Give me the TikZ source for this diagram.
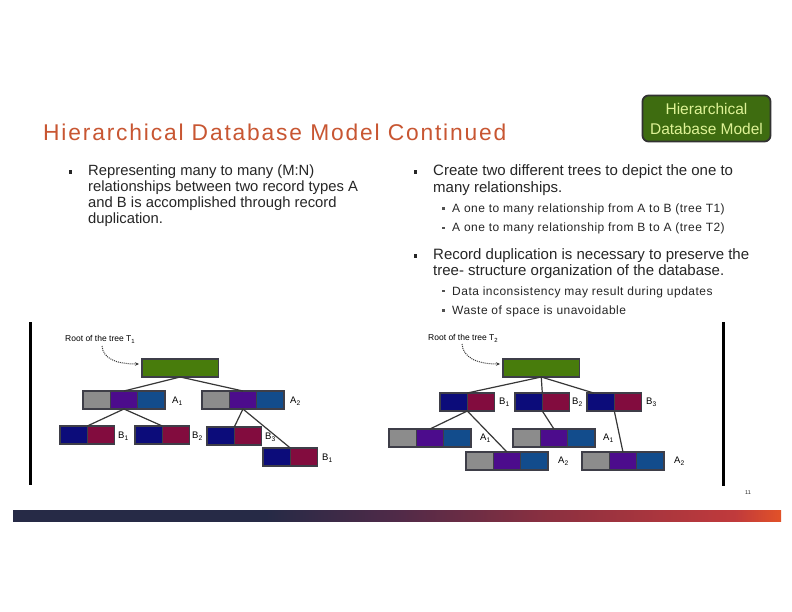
\documentclass[tikz,border=0pt]{standalone}
\usepackage{fontspec}
\setmainfont{Liberation Sans}
\newfontfamily\titlef[LetterSpace=8]{Liberation Sans}
\newfontfamily\subf[LetterSpace=4]{Liberation Sans}
\usetikzlibrary{arrows.meta}
\definecolor{titlec}{RGB}{200,86,50}
\definecolor{textc}{RGB}{38,38,38}
\definecolor{boxfill}{RGB}{62,108,16}
\definecolor{boxline}{RGB}{50,50,50}
\definecolor{boxtext}{RGB}{222,242,150}
\definecolor{cgray}{RGB}{140,140,140}
\definecolor{cpurp}{RGB}{76,12,140}
\definecolor{cblue}{RGB}{18,76,140}
\definecolor{cnavy}{RGB}{12,12,122}
\definecolor{cmaroon}{RGB}{130,12,62}
\definecolor{cgreen}{RGB}{72,124,12}
\definecolor{cellline}{RGB}{62,62,72}
\definecolor{linkc}{RGB}{55,55,55}
\definecolor{barA}{RGB}{38,42,70}
\definecolor{barB}{RGB}{80,42,72}
\definecolor{barC}{RGB}{140,48,64}
\definecolor{barD}{RGB}{192,58,60}
\definecolor{barE}{RGB}{226,82,40}
\pgfdeclarehorizontalshading{barshade}{100bp}{color(0bp)=(barA); color(25bp)=(barA); color(41.5bp)=(barA); color(50bp)=(barB); color(60bp)=(barC); color(72bp)=(barD); color(75bp)=(barE); color(100bp)=(barE)}
\newcommand\recA[3]{%
  \node[cell,fill=cgray] (#1g) at (#2,#3) {};
  \node[cell,fill=cpurp] (#1p) at (#1g.north east) {};
  \node[cell,fill=cblue] (#1b) at (#1p.north east) {};}
\newcommand\recB[3]{%
  \node[cell,fill=cnavy] (#1n) at (#2,#3) {};
  \node[cell,fill=cmaroon] (#1m) at (#1n.north east) {};}
\begin{document}
\begin{tikzpicture}[x=1pt,y=-1pt,
  cell/.style={draw=cellline, line width=1.6pt, minimum width=27.3pt, minimum height=18pt, inner sep=0pt, outer sep=0pt, anchor=north west},
  rootbox/.style={cell, fill=cgreen, minimum width=76.5pt},
  link/.style={draw=linkc, line width=1.2pt},
  dotarrow/.style={draw=linkc, densely dotted, line width=1pt, -{Stealth[length=4pt,width=3.5pt]}},
  lbl/.style={anchor=west, inner sep=0pt, font=\fontsize{9.5}{10}\selectfont, text=black},
  rootlbl/.style={anchor=west, inner sep=0pt, font=\fontsize{8.5}{10}\selectfont, text=black},
  bodyl/.style={anchor=base west, inner sep=0pt, font=\fontsize{14.8}{16}\selectfont, text=textc},
  bodyr/.style={anchor=base west, inner sep=0pt, font=\fontsize{15}{17}\selectfont, text=textc},
  subr/.style={anchor=base west, inner sep=0pt, font=\subf\fontsize{12}{14}\selectfont, text=textc},
  bul/.style={fill=textc, minimum size=3.2pt, inner sep=0pt},
  sbul/.style={fill=textc!80, minimum size=2.4pt, inner sep=0pt},
  vbar/.style={fill=black}]
\useasboundingbox (0,0) rectangle (792,612);
\fill[white] (0,0) rectangle (792,612);

% title and tag box
\node[anchor=base west, inner sep=0pt, text=titlec, font=\titlef\fontsize{22.8}{26}\selectfont] (title) at (43,141) {Hierarchical Database Model Continued};
\node[draw=boxline, line width=1.8pt, fill=boxfill, rounded corners=6pt, minimum width=128pt, minimum height=46pt, inner sep=0pt, align=center, text=boxtext, font=\fontsize{15.5}{20}\selectfont] (hdm) at (706.5,118.5) {Hierarchical\\Database Model};

% left text
\node[bul] (lb1) at (70.8,172) {};
\node[bodyl] (l1) at (88,175.5) {Representing many to many (M:N)};
\node[bodyl] (l2) at (88,191.5) {relationships between two record types A};
\node[bodyl] (l3) at (88,207.5) {and B is accomplished through record};
\node[bodyl] (l4) at (88,223.5) {duplication.};

% right text
\node[bul] (rb1b) at (415.8,172) {};
\node[bodyr] (r1) at (433,176) {Create two different trees to depict the one to};
\node[bodyr] (r2) at (433,192.5) {many relationships.};
\node[sbul] (sb1) at (443.5,208.5) {};
\node[subr] (s1) at (452,212.3) {A one to many relationship from A to B (tree T1)};
\node[sbul] (sb2) at (443.5,228) {};
\node[subr] (s2) at (452,231.7) {A one to many relationship from B to A (tree T2)};
\node[bul] (rb2b) at (415.8,256) {};
\node[bodyr] (r3) at (433,260) {Record duplication is necessary to preserve the};
\node[bodyr] (r4) at (433,276) {tree- structure organization of the database.};
\node[sbul] (sb3) at (443.5,291) {};
\node[subr] (s3) at (452,295) {Data inconsistency may result during updates};
\node[sbul] (sb4) at (443.5,310.5) {};
\node[subr] (s4) at (452,314.3) {Waste of space is unavoidable};

% vertical bars
\fill[vbar] (29,322) rectangle (32,485);
\fill[vbar] (722,322) rectangle (725,486);

% ---------- tree T1 ----------
\node[rootlbl] (rl1) at (65,339.5) {Root of the tree T\textsubscript{1}};
\node[rootbox] (root1) at (142,359) {};
\recA{ta1}{83}{391}
\recA{ta2}{202}{391}
\recB{tb1}{60}{426}
\recB{tb2}{135}{426}
\recB{tb3}{207}{427}
\recB{tb4}{263}{448}
\draw[link] (root1.south) -- (ta1p.north);
\draw[link] (root1.south) -- (ta2p.north);
\draw[link] (ta1p.south) -- (tb1n.north east);
\draw[link] (ta1p.south) -- (tb2n.north east);
\draw[link] (ta2p.south) -- (tb3n.north east);
\draw[link] (ta2p.south) -- (tb4n.north east);
\node[lbl] (la1) at (172,401) {A\textsubscript{1}};
\node[lbl] (la2) at (290,401) {A\textsubscript{2}};
\node[lbl] (lb1l) at (118,436) {B\textsubscript{1}};
\node[lbl] (lb2l) at (192,436) {B\textsubscript{2}};
\node[lbl] (lb3l) at (265,437) {B\textsubscript{3}};
\node[lbl] (lb4l) at (322,458) {B\textsubscript{1}};
\coordinate (d1s) at (102,346);
\coordinate (d1e) at ([xshift=-3pt,yshift=4pt]root1.west);
\draw[dotarrow] (d1s) .. controls (103,358) and (115,364) .. (d1e);

% ---------- tree T2 ----------
\node[rootlbl] (rl2) at (428,338.5) {Root of the tree T\textsubscript{2}};
\node[rootbox] (root2) at (503,359) {};
\recB{rb1}{440}{393}
\recB{rb2}{515}{393}
\recB{rb3}{587}{393}
\recA{ra1}{389}{429}
\recA{ra2}{513}{429}
\recA{ra3}{466}{452}
\recA{ra4}{582}{452}
\draw[link] (root2.south) -- (rb1n.north east);
\draw[link] (root2.south) -- (rb2n.north east);
\draw[link] (root2.south) -- ([xshift=-7pt]rb3n.north);
\draw[link] (rb1n.south east) -- (ra1p.north);
\draw[link] (rb1n.south east) -- (ra3p.north);
\draw[link] (rb2n.south east) -- (ra2p.north);
\draw[link] (rb3n.south east) -- (ra4p.north);
\node[lbl] (qb1) at (499,402) {B\textsubscript{1}};
\node[lbl] (qb2) at (572,402) {B\textsubscript{2}};
\node[lbl] (qb3) at (646,402) {B\textsubscript{3}};
\node[lbl] (qa1) at (480,438) {A\textsubscript{1}};
\node[lbl] (qa2) at (603,438) {A\textsubscript{1}};
\node[lbl] (qa3) at (558,461) {A\textsubscript{2}};
\node[lbl] (qa4) at (674,461) {A\textsubscript{2}};
\coordinate (d2s) at (462,344);
\coordinate (d2e) at ([xshift=-3pt,yshift=4pt]root2.west);
\draw[dotarrow] (d2s) .. controls (463,357) and (476,364) .. (d2e);

% page number and bottom bar
\node[anchor=center, inner sep=0pt, font=\fontsize{5.5}{6}\selectfont, text=textc] (pg) at (748,493) {11};
\shade[shading=barshade] (13,510) rectangle (781,521);
\end{tikzpicture}
\end{document}
